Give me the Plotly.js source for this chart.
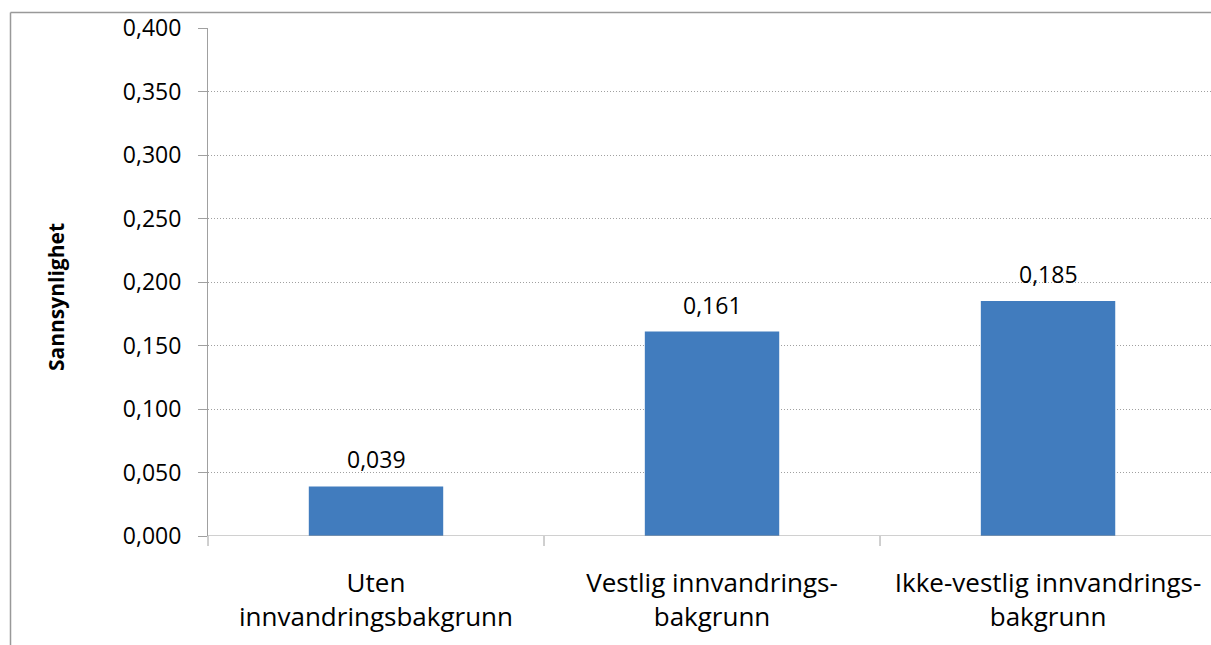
<!DOCTYPE html>
<html>
<head>
<meta charset="utf-8">
<script src="https://cdn.plot.ly/plotly-3.0.1.min.js"></script>
<style>
html,body{margin:0;padding:0;background:#fff;}
#chart{width:1211px;height:645px;}
</style>
</head>
<body>
<div id="chart"></div>
<script>
const categories = ["Uten<br>innvandringsbakgrunn", "Vestlig innvandrings-<br>bakgrunn", "Ikke-vestlig innvandrings-<br>bakgrunn"];
const values = [0.039, 0.161, 0.185];
const yTitle = "Sannsynlighet";

const W = 1211, H = 645;
const L = 208, R = 0, T = 28, B = 109;
const pw = W - L - R, ph = H - T - B;
const px = x => (x - L) / pw;
const py = y => 1 - (y - T) / ph;

const font = "Open Sans, Liberation Sans, sans-serif";
const gray = '#a0a0a0';

const trace = {
  type: 'bar',
  x: [0, 1, 2],
  y: values,
  width: 0.4,
  marker: {color: '#417CBE'},
  hoverinfo: 'none'
};

const labelAnnotations = values.map((v, i) => ({
  x: i, y: v, xref: 'x', yref: 'y',
  text: v.toFixed(3).replace('.', ','),
  showarrow: false, xanchor: 'center', yanchor: 'bottom', yshift: 9,
  font: {family: font, size: 23, color: '#000'}
}));

const layout = {
  width: W, height: H,
  margin: {l: L, r: R, t: T, b: B, pad: 0},
  paper_bgcolor: '#fff',
  plot_bgcolor: '#fff',
  separators: ', ',
  showlegend: false,
  font: {family: font, color: '#000'},
  xaxis: {
    type: 'linear',
    range: [-0.5, 2.485],
    tickmode: 'array',
    tickvals: [0, 1, 2],
    ticktext: categories,
    showgrid: false,
    zeroline: false,
    showline: false,
    ticks: '',
    ticklabelstandoff: 29,
    tickfont: {family: font, size: 26, color: '#000'},
    fixedrange: true
  },
  yaxis: {
    range: [0, 0.4],
    tickmode: 'linear',
    tick0: 0,
    dtick: 0.05,
    tickformat: '.3f',
    showgrid: true,
    gridcolor: gray,
    griddash: '1px,2px',
    gridwidth: 1,
    zeroline: false,
    showline: true,
    linecolor: gray,
    linewidth: 1,
    ticks: 'outside',
    ticklen: 9,
    tickcolor: gray,
    ticklabelstandoff: 12,
    tickfont: {family: font, size: 23, color: '#000'},
    fixedrange: true
  },
  shapes: [
    {type: 'line', xref: 'paper', yref: 'y', x0: 0, x1: 1.01, y0: 0, y1: 0, line: {color: gray, width: 1}},
    ...[0.5, 1.5].map(b => ({type: 'line', xref: 'x', yref: 'paper', x0: b, x1: b, y0: 0, y1: -10 / ph, line: {color: gray, width: 1}})),
    {type: 'line', xref: 'paper', yref: 'paper', x0: 0, x1: 0, y0: 0, y1: -10 / ph, line: {color: gray, width: 1}},
    {type: 'line', xref: 'paper', yref: 'paper', x0: px(10.5), x1: px(10.5), y0: py(12.5), y1: py(650), line: {color: '#999999', width: 1.5}},
    {type: 'line', xref: 'paper', yref: 'paper', x0: px(10.5), x1: px(1220), y0: py(12.5), y1: py(12.5), line: {color: '#999999', width: 1.5}}
  ],
  annotations: [
    {text: '<b>' + yTitle + '</b>', xref: 'paper', yref: 'paper', x: px(56), y: py(297), textangle: -90,
     showarrow: false, xanchor: 'center', yanchor: 'middle', font: {family: font, size: 21, color: '#000'}},
    ...labelAnnotations
  ]
};

Plotly.newPlot('chart', [trace], layout, {displayModeBar: false, staticPlot: true});
</script>
</body>
</html>
